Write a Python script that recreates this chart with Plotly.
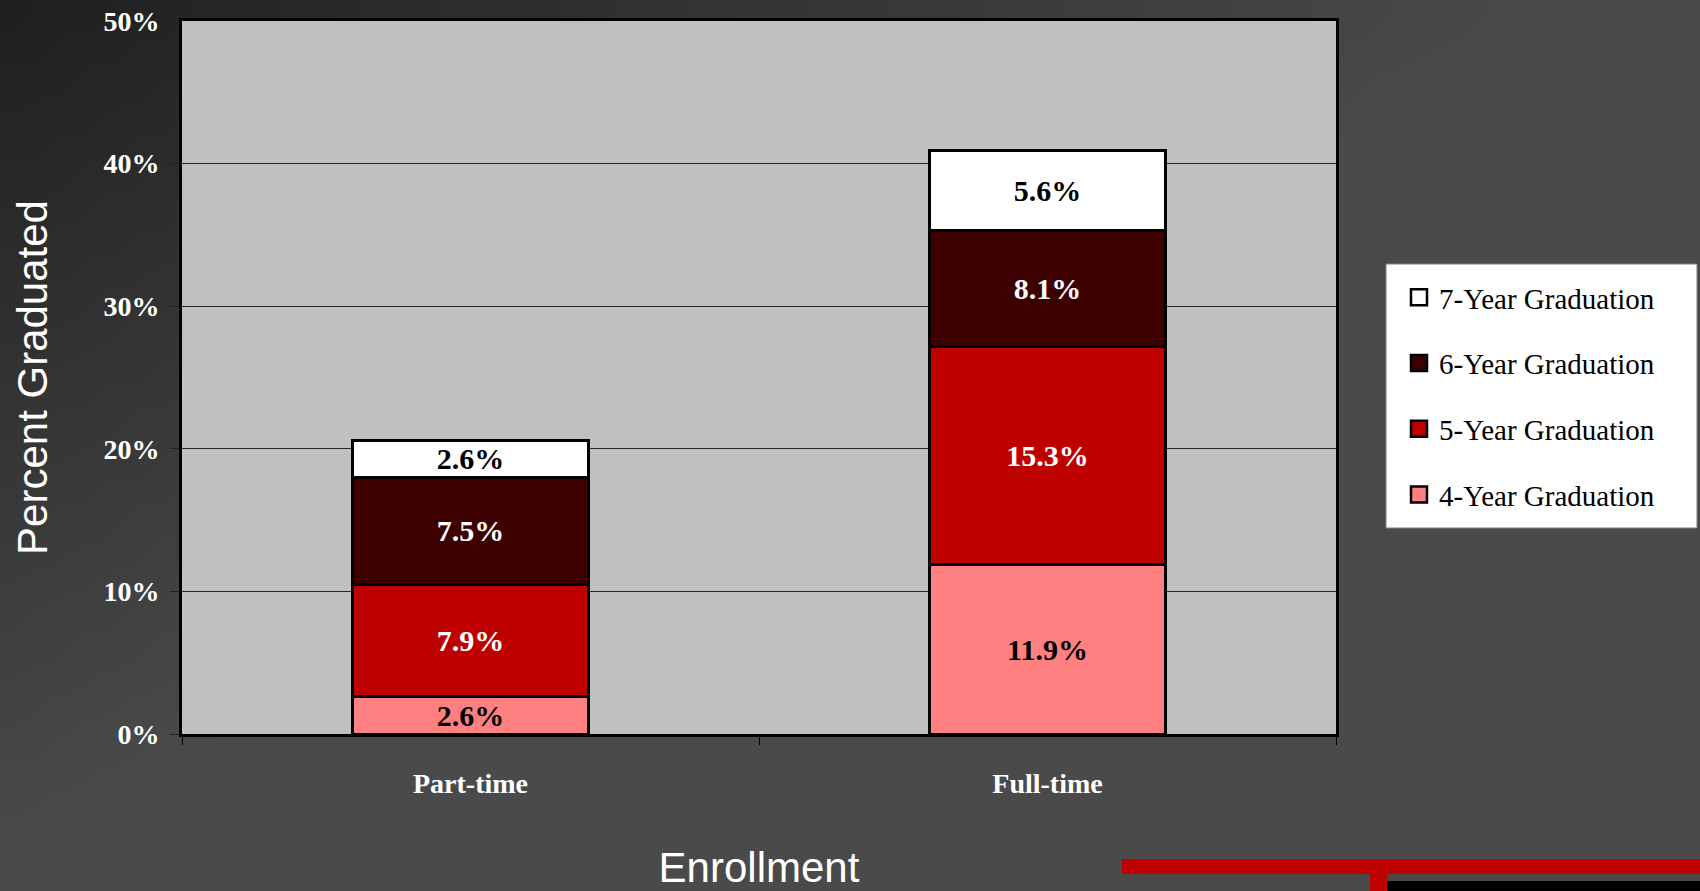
"""Graduation rate by enrollment status - stacked bar chart."""
import base64
import struct
import zlib

import plotly.graph_objects as go

# ---- data -------------------------------------------------------------
enrollment = ["Part-time", "Full-time"]
grad_4yr = [2.6, 11.9]
grad_5yr = [7.9, 15.3]
grad_6yr = [7.5, 8.1]
grad_7yr = [2.6, 5.6]

series = [
    ("4-Year Graduation", grad_4yr, "#FF8080", "black"),
    ("5-Year Graduation", grad_5yr, "#BE0000", "white"),
    ("6-Year Graduation", grad_6yr, "#3C0000", "white"),
    ("7-Year Graduation", grad_7yr, "#FFFFFF", "black"),
]

# ---- layout constants (pixels) ----------------------------------------
W, H = 1700, 891
L, R, T, B = 182, 364, 21, 157
PW, PH = W - L - R, H - T - B

SERIF = "Liberation Serif, Times New Roman, serif"
SANS = "Liberation Sans, Arial, sans-serif"


def px_x(x):
    return (x - L) / PW


def px_y(y):
    return (H - B - y) / PH


def gradient_png(w, h, dark=32, light=74):
    """Small diagonal gray gradient used as the slide background."""
    raw = b""
    for j in range(h):
        raw += b"\x00"
        for i in range(w):
            t = min(1.0, (i / (w - 1)) * W / 1550 + (j / (h - 1)) * H / 850)
            v = int(round(dark + (light - dark) * t))
            raw += bytes([v, v, v])

    def chunk(tag, data):
        c = tag + data
        return struct.pack(">I", len(data)) + c + struct.pack(">I", zlib.crc32(c) & 0xFFFFFFFF)

    png = b"\x89PNG\r\n\x1a\n"
    png += chunk(b"IHDR", struct.pack(">IIBBBBB", w, h, 8, 2, 0, 0, 0))
    png += chunk(b"IDAT", zlib.compress(raw, 9))
    png += chunk(b"IEND", b"")
    return "data:image/png;base64," + base64.b64encode(png).decode()


fig = go.Figure()

for name, vals, color, txt in series:
    fig.add_bar(
        x=enrollment,
        y=vals,
        name=name,
        legendgroup=name,
        showlegend=False,
        marker=dict(color=color, line=dict(color="black", width=3)),
        texttemplate="%{y:.1f}%",
        textposition="inside",
        insidetextanchor="middle",
        textangle=0,
        constraintext="none",
        textfont=dict(family=SERIF, size=30, color=txt, weight="bold"),
        hoverinfo="skip",
    )

# legend entries (top to bottom: 7, 6, 5, 4)
for name, vals, color, txt in reversed(series):
    fig.add_scatter(
        x=[None],
        y=[None],
        name=name,
        legendgroup=name,
        mode="markers",
        marker=dict(symbol="square", size=16, color=color, line=dict(color="black", width=2.5)),
    )

fig.update_layout(
    width=W,
    height=H,
    barmode="stack",
    bargap=0.59,
    paper_bgcolor="#4A4A4A",
    plot_bgcolor="#C0C0C0",
    margin=dict(l=L, r=R, t=T, b=B, pad=0, autoexpand=False),
    uniformtext=dict(minsize=30, mode="show"),
    hovermode=False,
    legend=dict(
        x=px_x(1399),
        y=px_y(272),
        xanchor="left",
        yanchor="top",
        bgcolor="rgba(0,0,0,0)",
        borderwidth=0,
        tracegroupgap=25,
        traceorder="grouped",
        font=dict(family=SERIF, size=29, color="black"),
        itemclick=False,
    ),
    images=[
        dict(
            source=gradient_png(68, 36),
            xref="paper",
            yref="paper",
            x=px_x(0),
            y=px_y(0),
            sizex=W / PW,
            sizey=H / PH,
            sizing="stretch",
            xanchor="left",
            yanchor="top",
            layer="below",
        )
    ],
    shapes=[
        # plot area fill, sits over the background image but under grid and bars
        dict(type="rect", xref="paper", yref="paper", x0=0, x1=1, y0=0, y1=1,
             fillcolor="#C0C0C0", line_width=0, layer="below"),
        # legend box
        dict(type="rect", xref="paper", yref="paper", x0=px_x(1386), x1=px_x(1697),
             y0=px_y(528), y1=px_y(264), fillcolor="white",
             line=dict(color="#7F7F7F", width=1)),
        # slide decoration bottom right
        dict(type="rect", xref="paper", yref="paper", x0=px_x(1122), x1=px_x(1700),
             y0=px_y(874), y1=px_y(859), fillcolor="#BE0000", line_width=0),
        dict(type="rect", xref="paper", yref="paper", x0=px_x(1370), x1=px_x(1387),
             y0=px_y(891), y1=px_y(873), fillcolor="#BE0000", line_width=0),
        dict(type="rect", xref="paper", yref="paper", x0=px_x(1387), x1=px_x(1700),
             y0=px_y(891), y1=px_y(881), fillcolor="black", line_width=0),
    ],
)

fig.update_xaxes(
    automargin=False,
    showline=True,
    linecolor="black",
    linewidth=3,
    mirror=True,
    ticks="outside",
    tickson="boundaries",
    ticklen=8,
    tickcolor="black",
    tickwidth=1,
    ticklabelstandoff=22,
    tickfont=dict(family=SERIF, size=28, color="white", weight="bold"),
    title=dict(text="Enrollment", font=dict(family=SANS, size=42, color="white"), standoff=67),
)

fig.update_yaxes(
    automargin=False,
    range=[0, 50],
    dtick=10,
    ticksuffix="%",
    showline=True,
    linecolor="black",
    linewidth=3,
    mirror=True,
    showgrid=True,
    gridcolor="#262626",
    gridwidth=1,
    zeroline=False,
    ticks="outside",
    ticklen=9,
    tickcolor="#222222",
    tickwidth=1,
    ticklabelstandoff=5,
    tickfont=dict(family=SERIF, size=28, color="white", weight="bold"),
    title=dict(text="Percent Graduated", font=dict(family=SANS, size=42, color="white"), standoff=43),
)

page_fix = (
    "document.documentElement.style.margin='0px';"
    "document.documentElement.style.overflow='hidden';"
    "document.body.style.margin='0px';"
    "document.body.style.overflow='hidden';"
    "window.scrollTo(0, 0);"
)
fig.write_html("out.html", config={"displayModeBar": False}, post_script=page_fix)
